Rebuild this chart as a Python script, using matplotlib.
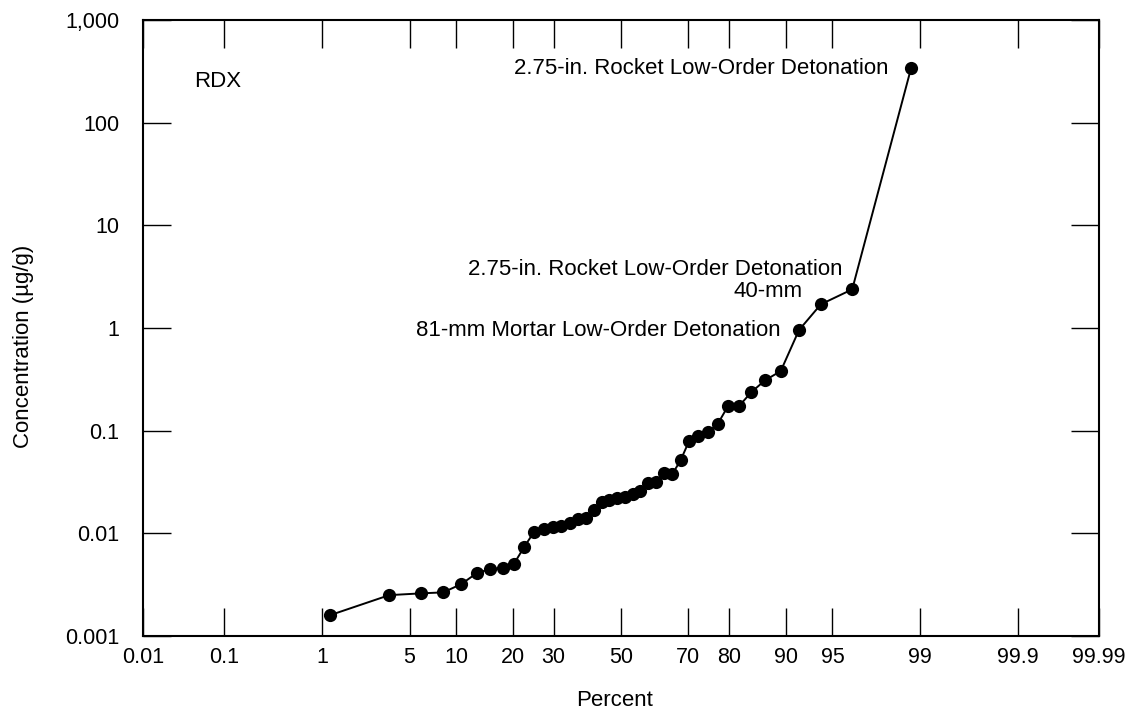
import numpy as np
import matplotlib
matplotlib.use('Agg')
import matplotlib.pyplot as plt
from statistics import NormalDist

plt.rcParams['font.family'] = ['Liberation Sans', 'DejaVu Sans']

# plotting positions (percent) and RDX concentrations (ug/g)
percent = [1.19, 3.57, 5.95, 8.33, 10.7, 13.1, 15.5, 17.9, 20.2, 22.6,
           25.0, 27.4, 29.8, 32.1, 34.5, 36.9, 39.3, 41.7, 44.0, 46.4,
           48.8, 51.2, 53.6, 56.0, 58.3, 60.7, 63.1, 65.5, 67.9, 70.2,
           72.6, 75.0, 77.4, 79.8, 82.1, 84.5, 86.9, 89.3, 91.7, 94.0,
           96.4, 98.8]
conc = [0.0016, 0.0025, 0.0026, 0.00266, 0.0032, 0.0041, 0.0045, 0.0046, 0.0050, 0.0074,
        0.0104, 0.0110, 0.0115, 0.0119, 0.0127, 0.0137, 0.0142, 0.0169, 0.0203, 0.0211,
        0.0219, 0.0227, 0.0240, 0.0260, 0.0311, 0.0318, 0.0385, 0.0376, 0.0518, 0.0793,
        0.0893, 0.0964, 0.116, 0.175, 0.174, 0.238, 0.310, 0.38, 0.955, 1.70,
        2.38, 340]

x_ticks = [0.01, 0.1, 1, 5, 10, 20, 30, 50, 70, 80, 90, 95, 99, 99.9, 99.99]
x_ticklabels = ['0.01', '0.1', '1', '5', '10', '20', '30', '50', '70', '80',
                '90', '95', '99', '99.9', '99.99']
y_ticks = [0.001, 0.01, 0.1, 1, 10, 100, 1000]
y_ticklabels = ['0.001', '0.01', '0.1', '1', '10', '100', '1,000']

# (point index, text, offset in points)
notes = [(41, '2.75-in. Rocket Low-Order Detonation', (-16, 0)),
         (40, '2.75-in. Rocket Low-Order Detonation', (-7, 14)),
         (39, '40-mm', (-13, 9)),
         (38, '81-mm Mortar Low-Order Detonation', (-13, 0))]

FS = 16

nd = NormalDist()
_ppf = np.vectorize(nd.inv_cdf, otypes=[float])
_cdf = np.vectorize(nd.cdf, otypes=[float])


def probit(p):
    p = np.clip(np.asarray(p, dtype=float) / 100.0, 1e-12, 1 - 1e-12)
    return _ppf(p)


def inv_probit(z):
    return _cdf(np.asarray(z, dtype=float)) * 100.0


fig = plt.figure(figsize=(11.31, 7.15), dpi=100)
ax = fig.add_axes([0.1264, 0.1105, 0.8453, 0.8615])

ax.set_xscale('function', functions=(probit, inv_probit))
ax.set_yscale('log')
ax.set_xlim(0.01, 99.99)
ax.set_ylim(0.001, 1000)

ax.plot(percent, conc, color='black', lw=1.4, marker='o', ms=9.5,
        markeredgewidth=0, zorder=3)

for i, txt, off in notes:
    ax.annotate(txt, (percent[i], conc[i]), xytext=off, textcoords='offset points',
                ha='right', va='center', fontsize=FS)

ax.text(0.054, 0.9, 'RDX', transform=ax.transAxes, fontsize=FS,
        ha='left', va='center')

ax.set_xticks(x_ticks)
ax.set_xticklabels(x_ticklabels)
ax.set_yticks(y_ticks)
ax.set_yticklabels(y_ticklabels)
ax.minorticks_off()

ax.tick_params(axis='both', which='major', direction='in', length=20, width=1.0,
               top=True, right=True, labelsize=15.5)
ax.tick_params(axis='x', pad=8)
ax.tick_params(axis='y', pad=17)
for s in ax.spines.values():
    s.set_linewidth(1.5)

ax.set_xlabel('Percent', fontsize=FS, va='center')
ax.set_ylabel('Concentration (µg/g)', fontsize=FS, va='center')
ax.xaxis.set_label_coords(0.493, -0.104)
ax.yaxis.set_label_coords(-0.1245, 0.47)

fig.savefig('out.png', dpi=100)
